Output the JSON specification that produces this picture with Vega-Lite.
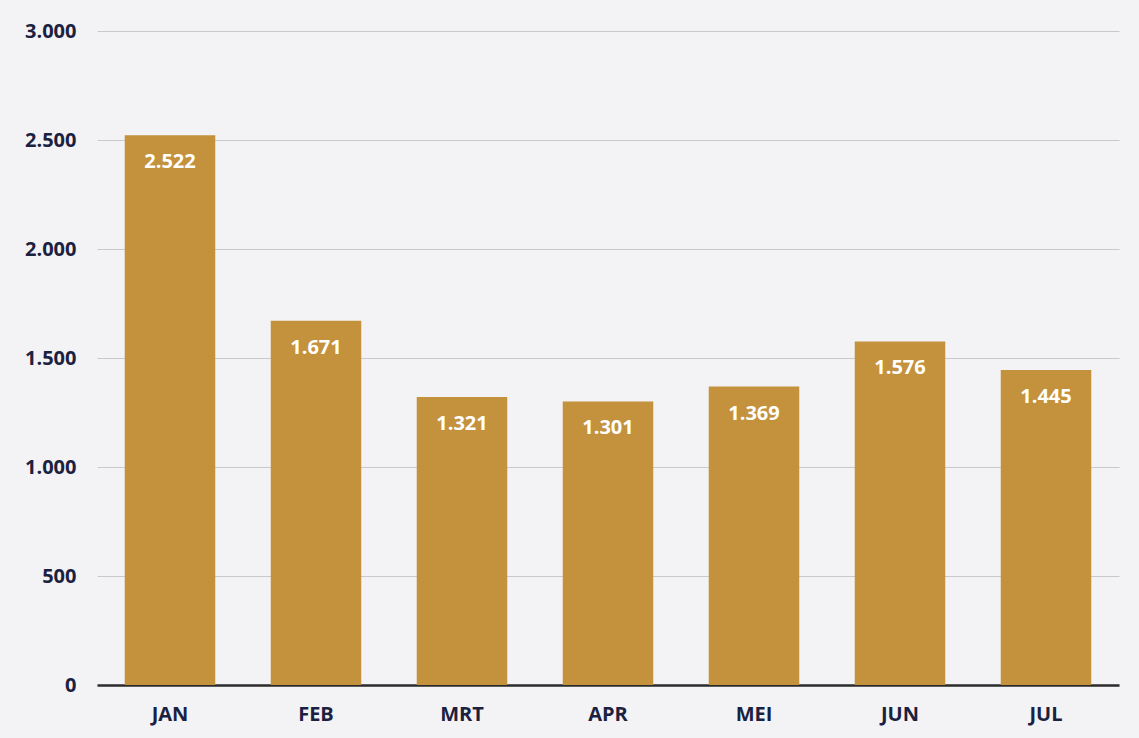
{
  "$schema": "https://vega.github.io/schema/vega-lite/v6.json",
  "width": 1022,
  "height": 654,
  "autosize": {"type": "none"},
  "padding": {"left": 97, "top": 31, "right": 20, "bottom": 53},
  "background": "#f3f3f5",
  "config": {
    "locale": {"number": {"decimal": ",", "thousands": ".", "grouping": [3], "currency": ["€", ""]}},
    "view": {"stroke": null},
    "font": "Open Sans"
  },
  "data": {
    "values": [
      {"maand": "JAN", "waarde": 2522},
      {"maand": "FEB", "waarde": 1671},
      {"maand": "MRT", "waarde": 1321},
      {"maand": "APR", "waarde": 1301},
      {"maand": "MEI", "waarde": 1369},
      {"maand": "JUN", "waarde": 1576},
      {"maand": "JUL", "waarde": 1445}
    ]
  },
  "encoding": {
    "x": {
      "field": "maand", "type": "nominal", "sort": null,
      "scale": {"paddingInner": 0.38, "paddingOuter": 0.19},
      "axis": {"title": null, "labelAngle": 0, "ticks": false, "domainColor": "#2b2b2b", "domainWidth": 2.5,
        "labelFont": "Open Sans", "labelFontWeight": "bold", "labelFontSize": 20, "labelColor": "#1b2140", "labelPadding": 19}
    },
    "y": {
      "field": "waarde", "type": "quantitative",
      "scale": {"domain": [0, 3000]},
      "axis": {"title": null, "values": [0, 500, 1000, 1500, 2000, 2500, 3000], "format": ",d", "domain": false, "ticks": false,
        "gridColor": "#c9c9cc", "gridWidth": 1.2,
        "labelFont": "Open Sans", "labelFontWeight": "bold", "labelFontSize": 20, "labelColor": "#1b2140", "labelPadding": 21}
    }
  },
  "layer": [
    {"mark": {"type": "bar", "color": "#c4923c"}},
    {
      "mark": {"type": "text", "baseline": "middle", "dy": 27, "color": "white", "fontWeight": "bold", "fontSize": 20, "font": "Open Sans"},
      "encoding": {"text": {"field": "waarde", "type": "quantitative", "format": ",d"}}
    }
  ]
}
